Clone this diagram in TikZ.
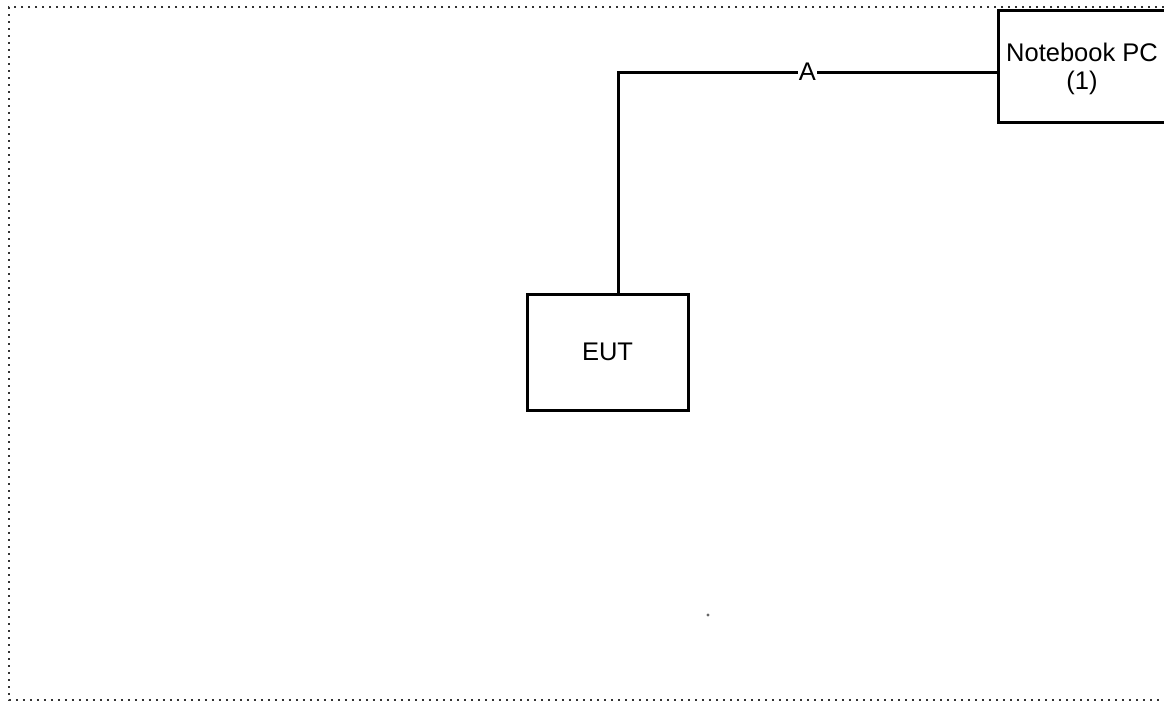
\documentclass[tikz,border=0pt]{standalone}
\usepackage{fontspec}
\setmainfont{Liberation Sans}
\begin{document}
\begin{tikzpicture}[x=1pt,y=-1pt,
  box/.style={draw=black,line width=3pt,fill=white,inner sep=0pt,align=center,
    font=\fontsize{25.5}{28}\selectfont},
  boxtext/.style={inner sep=0pt,align=center,font=\fontsize{25.5}{28}\selectfont},
  wire/.style={draw=black,line width=3pt},
  lbl/.style={fill=white,inner sep=1pt,font=\fontsize{25.5}{28}\selectfont},
  frame/.style={draw=black!80,line width=1.8pt,dash pattern=on 1.8pt off 5.2pt}]
\useasboundingbox (0,0) rectangle (1164,702);
\clip (0,0) rectangle (1164,702);
\fill[white] (0,0) rectangle (1164,702);
\draw[frame] (1164,7) -- (9,7) -- (9,700) -- (1164,700);
\node[box,minimum width=168pt,minimum height=112pt] (nb) at (1082,66) {};
\node[boxtext] (nbt) at (1082,69) {Notebook PC\\(1)};
\node[box,minimum width=161pt,minimum height=116pt] (eut) at (607.5,352) {EUT};
\coordinate (c) at (618,72);
\draw[wire] (eut.north -| c) -- (c) -- node[lbl,pos=0.5] (a) {A} (c -| nb.west);
\fill[black!60] (708,615) circle (1.6pt);
\end{tikzpicture}
\end{document}
